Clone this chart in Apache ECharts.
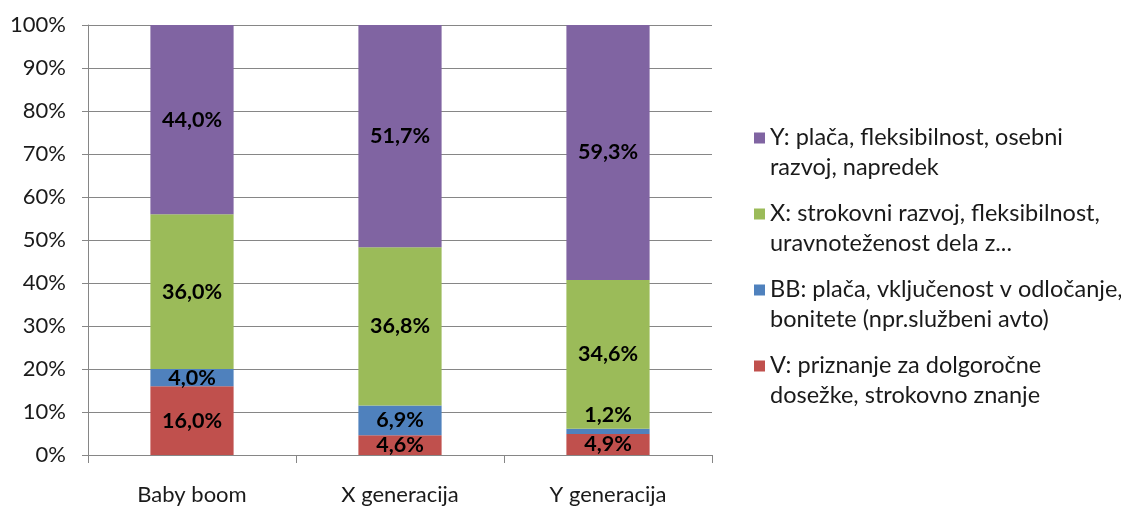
<!DOCTYPE html>
<html>
<head>
<meta charset="utf-8">
<script src="https://cdn.jsdelivr.net/npm/echarts@6/dist/echarts.min.js"></script>
<style>
  html, body { margin: 0; padding: 0; background: #fff; }
  #chart { width: 1121px; height: 507px; }
</style>
</head>
<body>
<div id="chart"></div>
<script>
// Generations shown on the category axis
const categories = ['Baby boom', 'X generacija', 'Y generacija'];

// Share of each motivation group per generation (percent)
const seriesNames = [
  'V: priznanje za dolgoročne\ndosežke, strokovno znanje',
  'BB: plača, vključenost v odločanje,\nbonitete (npr.službeni avto)',
  'X: strokovni razvoj, fleksibilnost,\nuravnoteženost dela z...',
  'Y: plača, fleksibilnost, osebni\nrazvoj, napredek'
];
const valuesV  = [16.0, 4.6, 4.9];
const valuesBB = [4.0, 6.9, 1.2];
const valuesX  = [36.0, 36.8, 34.6];
const valuesY  = [44.0, 51.7, 59.3];

const yTicks = [0, 10, 20, 30, 40, 50, 60, 70, 80, 90, 100];

const colors = ['#C0504D', '#4F81BD', '#9BBB59', '#8064A2'];
const FONT = 'Lato, "Open Sans", sans-serif';

const fmt = v => v.toFixed(1).replace('.', ',') + '%';

function makeSeries(name, values, color, labelOffsets) {
  return {
    name: name,
    type: 'bar',
    stack: 'total',
    barWidth: '40%',
    itemStyle: { color: color },
    label: {
      show: true,
      position: 'inside',
      color: '#000',
      fontFamily: FONT,
      fontWeight: 'bold',
      fontSize: 21.5,
      formatter: p => fmt(p.value)
    },
    data: values.map((v, i) => {
      const d = { value: v };
      if (labelOffsets && labelOffsets[i]) d.label = { offset: labelOffsets[i] };
      return d;
    })
  };
}

const chart = echarts.init(document.getElementById('chart'), null, { renderer: 'canvas' });

chart.setOption({
  animation: false,
  backgroundColor: '#fff',
  grid: { left: 88, right: 409, top: 25, bottom: 52, containLabel: false },
  legend: {
    orient: 'vertical',
    left: 749,
    top: 117,
    itemGap: 16,
    itemWidth: 11,
    itemHeight: 39,
    // square aligned with the first text line of each two-line entry
    icon: 'path://M0 0H11V11H0Z M0 38.99H0.01V39H0Z',
    data: [seriesNames[3], seriesNames[2], seriesNames[1], seriesNames[0]],
    textStyle: {
      fontFamily: FONT,
      fontSize: 23.5,
      color: '#1a1a1a',
      lineHeight: 30
    }
  },
  xAxis: {
    type: 'category',
    data: categories,
    axisLine: { show: true, lineStyle: { color: '#868686', width: 1 } },
    axisTick: { show: true, length: 8, lineStyle: { color: '#868686' } },
    axisLabel: { margin: 29, fontFamily: FONT, fontSize: 22, color: '#1a1a1a' }
  },
  yAxis: {
    type: 'value',
    min: yTicks[0],
    max: yTicks[yTicks.length - 1],
    interval: yTicks[1] - yTicks[0],
    axisLine: { show: true, lineStyle: { color: '#868686', width: 1 } },
    axisTick: { show: true, length: 6, lineStyle: { color: '#868686' } },
    splitLine: { show: true, lineStyle: { color: '#868686', width: 1 } },
    axisLabel: {
      margin: 22,
      fontFamily: FONT,
      fontSize: 22,
      color: '#1a1a1a',
      formatter: '{value}%'
    }
  },
  series: [
    makeSeries(seriesNames[0], valuesV, colors[0]),
    makeSeries(seriesNames[1], valuesBB, colors[1], [null, null, [0, -16]]),
    makeSeries(seriesNames[2], valuesX, colors[2]),
    makeSeries(seriesNames[3], valuesY, colors[3])
  ]
});
</script>
</body>
</html>
